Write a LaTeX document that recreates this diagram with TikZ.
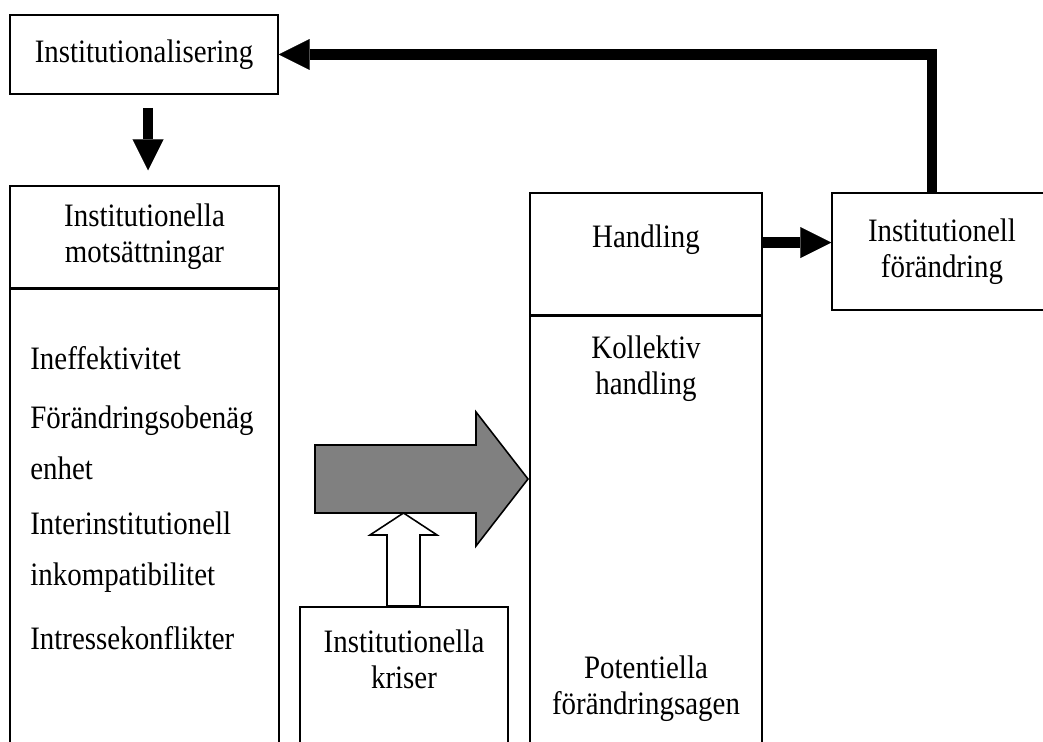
\documentclass[tikz,border=0pt]{standalone}
\usepackage{fontspec}
\setmainfont{Liberation Serif}[FakeStretch=0.885]
\usetikzlibrary{arrows.meta, positioning}

\begin{document}
\begin{tikzpicture}[
		x=0.02cm, y=0.02cm,
		font=\fontsize{18.6}{20.4}\selectfont,
		% Plain framed boxes
		box/.style={draw, line width=0.9pt, align=center, inner sep=0pt},
		% Left aligned entries inside a column
		entry/.style={anchor=west, align=left, inner sep=0pt},
		% Heavy black connectors
		fat arrow/.style={-{Triangle[length=17.6pt, width=17.6pt, line width=0.01pt]}, line width=6.2pt},
		% Block arrows
		gray block/.style={draw, line width=0.9pt, fill=gray},
		white block/.style={draw, line width=0.9pt, fill=white}
		]
		
		\clip (0,0) rectangle (1043,742);
		
		% ==============================================================================
		% 1. TOP BOX
		% ==============================================================================
		\node[box, minimum width=5.36cm, minimum height=1.58cm] (inst) at (144,687.5) {Institutionalisering};
		
		% ==============================================================================
		% 2. LEFT COLUMN: contradictions
		% ==============================================================================
		\node[box, minimum width=5.38cm, minimum height=2.04cm] (contr) at (144.5,505) {Institutionella\\motsättningar};
		\node[box, below=0pt of contr, minimum width=5.38cm, minimum height=10cm] (contr body) {};
		
		\node[entry] (ineff) at (30,384) {Ineffektivitet};
		\node[entry] (obenag) at (30,299.5) {Förändringsobenäg\\[8.5pt]enhet};
		\node[entry] (inkomp) at (30,189.5) {Interinstitutionell\\[8.5pt]inkompatibilitet};
		\node[entry] (konfl) at (30,104) {Intressekonflikter};
		
		% ==============================================================================
		% 3. RIGHT COLUMN: action
		% ==============================================================================
		\node[box, minimum width=4.64cm, minimum height=2.44cm] (handling) at (646,488) {Handling\\~};
		\node[box, below=0pt of handling, minimum width=4.64cm, minimum height=10cm] (handling body) {};
		
		\node[align=center] (kollektiv) at (646,373) {Kollektiv\\handling};
		\node[align=center] (agent) at (646,53) {Potentiella\\förändringsagen};
		
		\node[box, minimum width=4.4cm, minimum height=2.34cm] (forandring) at (942,490.5) {Institutionell\\förändring};
		
		% ==============================================================================
		% 4. BLOCK ARROWS AND CRISES
		% ==============================================================================
		\draw[gray block] (315,297) -- (476,297) -- (476,330) -- (528,263) -- (476,196) -- (476,229) -- (315,229) -- cycle;
		\draw[white block] (387,136) -- (387,207) -- (370,207) -- (403.5,229) -- (437,207) -- (420,207) -- (420,136) -- cycle;
		
		\node[box, anchor=north, minimum width=4.16cm, minimum height=4cm] (kris) at (404,136) {};
		\node[align=center] (kris text) at (404,82.5) {Institutionella\\kriser};
		
		% ==============================================================================
		% 5. CONNECTORS
		% ==============================================================================
		\coordinate (i down) at ([xshift=2.3pt]inst.south);
		\draw[fat arrow, shorten <=7.4pt, shorten >=8.5pt] (i down) -- (i down |- contr.north);
		
		\coordinate (h out) at ([yshift=6.5pt]handling.east);
		\draw[fat arrow] (h out) -- (h out -| forandring.west);
		
		\coordinate (f up) at ([xshift=-5.7pt]forandring.north);
		\draw[fat arrow] (f up) |- (inst.east);
	\end{tikzpicture}
\end{document}
